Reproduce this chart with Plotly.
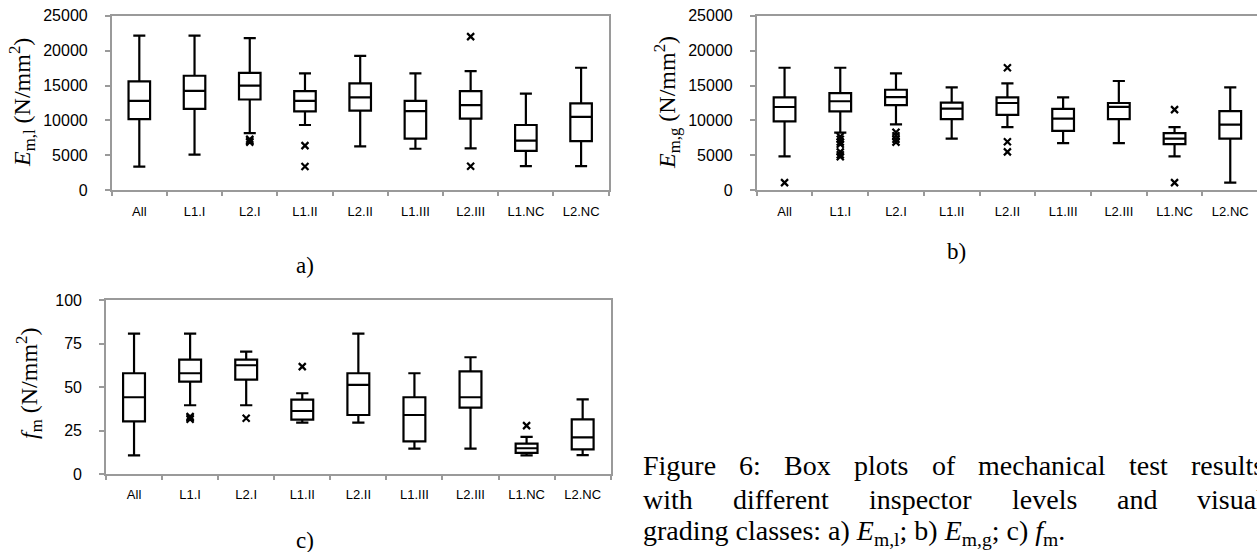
import plotly.graph_objects as go

W, H = 1257, 552

categories = ["All", "L1.I", "L2.I", "L1.II", "L2.II", "L1.III", "L2.III", "L1.NC", "L2.NC"]

# a) E_m,l (N/mm2)
eml_low = [3400, 5100, 8200, 9350, 6300, 5950, 6000, 3450, 3450]
eml_q1 = [10200, 11650, 13000, 11300, 11400, 7400, 10250, 5650, 7050]
eml_med = [12800, 14250, 15000, 12800, 13300, 11350, 12200, 7100, 10500]
eml_q3 = [15600, 16400, 16800, 14200, 15300, 12800, 14200, 9350, 12450]
eml_high = [22150, 22150, 21800, 16750, 19250, 16750, 17050, 13850, 17550]
eml_out_cat = ["L2.I", "L2.I", "L2.I", "L1.II", "L1.II", "L2.III", "L2.III"]
eml_out_val = [6900, 7100, 7300, 6400, 3400, 22000, 3450]

# b) E_m,g (N/mm2)
emg_low = [4850, 8250, 9450, 7400, 9050, 6750, 6750, 4850, 1100]
emg_q1 = [9870, 11300, 12200, 10200, 10800, 8500, 10200, 6600, 7400]
emg_med = [11930, 12750, 13350, 11700, 12500, 10250, 11950, 7400, 9400]
emg_q3 = [13310, 13900, 14400, 12550, 13300, 11650, 12500, 8200, 11350]
emg_high = [17550, 17550, 16750, 14750, 15300, 13300, 15650, 9050, 14750]
emg_out_cat = ["All", "L1.I", "L1.I", "L1.I", "L1.I", "L1.I", "L1.I", "L1.I",
               "L2.I", "L2.I", "L2.I", "L2.I", "L2.II", "L2.II", "L2.II", "L1.NC", "L1.NC"]
emg_out_val = [1100, 7700, 7300, 6900, 6600, 5500, 5100, 4800,
               8300, 7800, 7300, 6900, 17550, 6950, 5500, 11550, 1100]

# c) f_m (N/mm2)
fm_low = [10.7, 39.5, 39.5, 29.5, 29.5, 14.6, 14.6, 10.7, 10.9]
fm_q1 = [30.3, 53.1, 54.2, 31.2, 33.9, 18.8, 38.1, 12.1, 14.2]
fm_med = [44.1, 57.9, 62.5, 36.2, 51.2, 33.9, 44.1, 14.8, 21.1]
fm_q3 = [57.9, 65.7, 65.7, 42.7, 57.9, 44.1, 59.0, 17.4, 31.4]
fm_high = [80.7, 80.7, 70.3, 46.4, 80.7, 57.9, 67.1, 21.3, 42.9]
fm_out_cat = ["L1.I", "L1.I", "L1.I", "L2.I", "L1.II", "L1.NC"]
fm_out_val = [31.5, 32.3, 33.0, 32.0, 61.7, 27.8]

e_ticks = [0, 5000, 10000, 15000, 20000, 25000]
e_ticktext = ["0", "5000", "10000", "15000", "20000", "25000"]
fm_ticks = [0, 25, 50, 75, 100]
fm_ticktext = ["0", "25", "50", "75", "100"]

AX_GREY = "#9a9a9a"
SANS = "Liberation Sans"
SERIF = "Liberation Serif"


def px_x(x):
    return x / W


def px_y(y):
    return 1 - y / H


fig = go.Figure()

panels = [
    ("x", "y", eml_low, eml_q1, eml_med, eml_q3, eml_high, eml_out_cat, eml_out_val),
    ("x2", "y2", emg_low, emg_q1, emg_med, emg_q3, emg_high, emg_out_cat, emg_out_val),
    ("x3", "y3", fm_low, fm_q1, fm_med, fm_q3, fm_high, fm_out_cat, fm_out_val),
]
for xa, ya, lo, q1, med, q3, hi, oc, ov in panels:
    fig.add_trace(go.Box(
        x=categories, lowerfence=lo, q1=q1, median=med, q3=q3, upperfence=hi,
        boxpoints=False, width=0.39, whiskerwidth=0.56,
        line=dict(color="black", width=2.2), fillcolor="white",
        xaxis=xa, yaxis=ya, hoverinfo="skip",
    ))
    fig.add_trace(go.Scatter(
        x=oc, y=ov, mode="markers", xaxis=xa, yaxis=ya,
        marker=dict(symbol="x-thin", size=7, color="black",
                    line=dict(color="black", width=2.2)),
        hoverinfo="skip",
    ))

xcommon = dict(type="category", categoryorder="array", categoryarray=categories,
               showline=True, linecolor=AX_GREY, linewidth=1.6, mirror=True,
               ticks="outside", tickson="boundaries", ticklen=4, tickcolor=AX_GREY,
               tickwidth=1.6, showgrid=False, zeroline=False,
               tickfont=dict(family=SANS, size=13, color="black"),
               ticklabelstandoff=8)
ycommon = dict(showline=True, linecolor=AX_GREY, linewidth=1.6,
               ticks="outside", ticklen=5, tickcolor=AX_GREY, tickwidth=1.6,
               showgrid=False, zeroline=False,
               tickfont=dict(family=SANS, size=16, color="black"),
               ticklabelstandoff=14)

fig.update_layout(
    width=W, height=H, margin=dict(l=0, r=0, t=0, b=0, autoexpand=False),
    paper_bgcolor="white", plot_bgcolor="white", showlegend=False,
    xaxis=dict(xcommon, domain=[px_x(111.7), px_x(608.7)], range=[-0.5, 8.5], anchor="y"),
    yaxis=dict(ycommon, domain=[px_y(190.3), px_y(15.7)], range=[0, 25000],
               tickvals=e_ticks, ticktext=e_ticktext, mirror=True, anchor="x"),
    xaxis2=dict(xcommon, domain=[px_x(756.7), 1.0], range=[-0.5, 8.48], anchor="y2"),
    yaxis2=dict(ycommon, domain=[px_y(190.3), px_y(15.7)], range=[0, 25000],
                tickvals=e_ticks, ticktext=e_ticktext, mirror=False, anchor="x2"),
    xaxis3=dict(xcommon, domain=[px_x(106), px_x(610.7)], range=[-0.5, 8.5], anchor="y3"),
    yaxis3=dict(ycommon, domain=[px_y(474), px_y(300)], range=[0, 100],
                tickvals=fm_ticks, ticktext=fm_ticktext, mirror=True, anchor="x3"),
)

ann = []
# y-axis titles
for x, y, txt in [
    (22, 103, "<i>E</i><sub>m,l</sub> (N/mm<sup>2</sup>)"),
    (667, 103, "<i>E</i><sub>m,g</sub> (N/mm<sup>2</sup>)"),
    (29, 384, "<i>f</i><sub>m</sub> (N/mm<sup>2</sup>)"),
]:
    ann.append(dict(x=px_x(x), y=px_y(y), xref="paper", yref="paper", text=txt,
                    textangle=-90, showarrow=False, xanchor="center", yanchor="middle",
                    font=dict(family=SERIF, size=24, color="black")))
# panel labels
for x, y, txt in [(305, 265, "a)"), (956, 251, "b)"), (305, 540, "c)")]:
    ann.append(dict(x=px_x(x), y=px_y(y), xref="paper", yref="paper", text=txt,
                    showarrow=False, xanchor="center", yanchor="middle",
                    font=dict(family=SERIF, size=23, color="black")))

# caption (justified lines built word by word with Times metrics)
TW = {" ": 250, "F": 556, "i": 278, "g": 500, "u": 500, "r": 333, "e": 444, "6": 500,
      ":": 278, "B": 667, "o": 500, "x": 500, "p": 500, "l": 278, "t": 278, "s": 389,
      "f": 333, "m": 778, "c": 444, "h": 500, "a": 444, "n": 500, "w": 722, "d": 500,
      "v": 500}
CAP_SIZE = 28
cap_x0, cap_x1 = 642, 1263
cap_lines = ["Figure 6: Box plots of mechanical test results",
             "with different inspector levels and visual"]
cap_last = "grading classes: a) <i>E</i><sub>m,l</sub>; b) <i>E</i><sub>m,g</sub>; c) <i>f</i><sub>m</sub>."
cap_y = [465, 499, 532]
for li, line in enumerate(cap_lines):
    words = line.split(" ")
    widths = [sum(TW.get(ch, 500) for ch in w) * CAP_SIZE / 1000 for w in words]
    gap = (cap_x1 - cap_x0 - sum(widths)) / (len(words) - 1)
    xpos = cap_x0
    for w, wd in zip(words, widths):
        ann.append(dict(x=px_x(xpos), y=px_y(cap_y[li]), xref="paper", yref="paper",
                        text=w, showarrow=False, xanchor="left", yanchor="middle",
                        borderpad=0, font=dict(family=SERIF, size=CAP_SIZE, color="black")))
        xpos += wd + gap
ann.append(dict(x=px_x(cap_x0), y=px_y(cap_y[2]), xref="paper", yref="paper",
                text=cap_last, showarrow=False, xanchor="left", yanchor="middle",
                borderpad=0, font=dict(family=SERIF, size=CAP_SIZE, color="black")))

fig.update_layout(annotations=ann)
fig.write_html("out.html", config={"displayModeBar": False},
               post_script="document.body.style.margin='0';document.body.style.overflow='hidden';")
